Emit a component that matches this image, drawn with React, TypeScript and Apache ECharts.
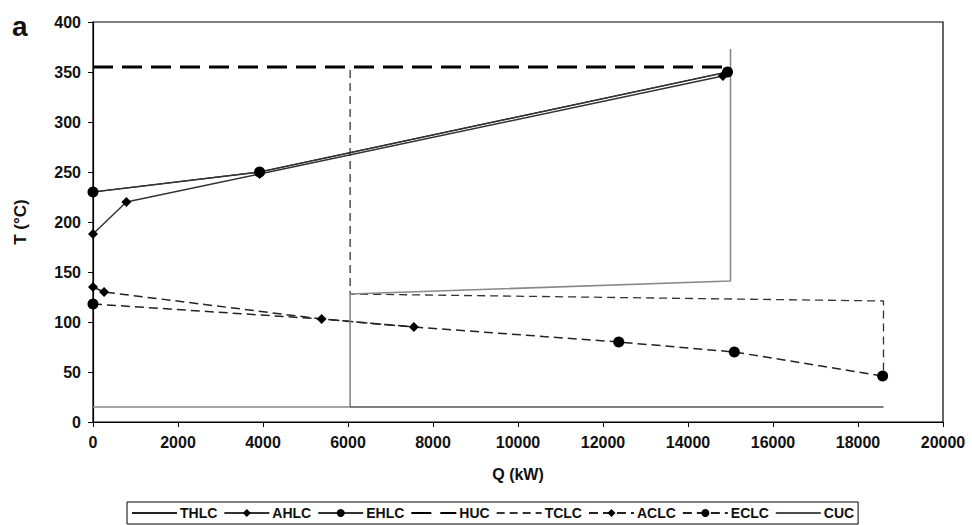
import React, { useEffect, useRef } from "react";
import * as echarts from "echarts";

// Q (kW), T (°C)
const THLC: number[][] = [[0, 230], [3920, 250], [14930, 350]];
const AHLC: number[][] = [[0, 188], [785, 220], [3920, 248], [14820, 346]];
const EHLC: number[][] = [[0, 230], [3920, 250], [14930, 350]];
const HUC: number[][] = [[0, 355], [15000, 355]];
const TCLC: number[][] = [[6050, 352], [6050, 128], [18600, 121], [18600, 46]];
const ACLC: number[][] = [[0, 135], [260, 130], [5380, 103], [7550, 95]];
const ECLC: number[][] = [[0, 118], [5380, 103], [7550, 95], [12370, 80], [15090, 70], [18580, 46]];
const ECLC_MARKED: boolean[] = [true, false, false, true, true, true];
const CUC_A: number[][] = [[0, 15], [6050, 15], [6050, 128], [15000, 141], [15000, 373]];
const CUC_B: number[][] = [[6050, 15], [18600, 15]];

const LEGEND_NAMES: string[] = ["THLC", "AHLC", "EHLC", "HUC", "TCLC", "ACLC", "ECLC", "CUC"];
const LEGEND_NO_MARK: string[] = ["THLC", "HUC", "TCLC", "CUC"];

const X_MIN = 0, X_MAX = 20000, X_STEP = 2000;
const Y_MIN = 0, Y_MAX = 400, Y_STEP = 50;

const FONT = "'Liberation Sans', Arial, sans-serif";

export default function App() {
  const ref = useRef<HTMLDivElement>(null);
  useEffect(() => {
    if (!ref.current) return;
    const chart = echarts.init(ref.current, undefined, { renderer: "svg" });
    const axisLabel = { fontFamily: FONT, fontWeight: "bold" as const, fontSize: 16, color: "#111" };
    chart.setOption({
      animation: false,
      backgroundColor: "#fff",
      grid: { left: 93, right: 29, top: 22, bottom: 103, show: true, borderColor: "#000", borderWidth: 1.2, backgroundColor: "transparent" },
      graphic: [
        { type: "text", left: 12, top: 12, style: { text: "a", fontFamily: FONT, fontWeight: "bold", fontSize: 28, fill: "#111" } },
      ],
      xAxis: {
        type: "value", min: X_MIN, max: X_MAX, interval: X_STEP,
        name: "Q (kW)", nameLocation: "middle", nameGap: 44,
        nameTextStyle: { fontFamily: FONT, fontWeight: "bold", fontSize: 16, color: "#111" },
        axisLine: { lineStyle: { color: "#000", width: 1.2 } },
        axisTick: { show: true, length: 5, lineStyle: { color: "#000" } },
        axisLabel: { ...axisLabel, margin: 12, showMaxLabel: true, formatter: (v: number) => String(v) },
        splitLine: { show: false },
      },
      yAxis: {
        type: "value", min: Y_MIN, max: Y_MAX, interval: Y_STEP,
        name: "T (°C)", nameLocation: "middle", nameGap: 64, nameRotate: 90,
        nameTextStyle: { fontFamily: FONT, fontWeight: "bold", fontSize: 17, color: "#111" },
        axisLine: { show: true, lineStyle: { color: "#000", width: 1.2 } },
        axisTick: { show: true, length: 5, lineStyle: { color: "#000" } },
        axisLabel: { ...axisLabel, margin: 12, formatter: (v: number) => String(v) },
        splitLine: { show: false },
      },
      legend: {
        left: 127, top: 502,
        padding: [4, 4, 4, 4],
        itemWidth: 45, itemHeight: 10, itemGap: 6,
        borderColor: "#000", borderWidth: 1,
        textStyle: { fontFamily: FONT, fontWeight: "bold", fontSize: 14, color: "#111", padding: [0, 0, 0, -2] },
        data: LEGEND_NAMES.map((n) => {
          if (n === "CUC") return { name: n, itemStyle: { opacity: 0 }, lineStyle: { color: "#111", width: 1.6, type: "solid" } };
          if (LEGEND_NO_MARK.includes(n)) return { name: n, itemStyle: { opacity: 0 } };
          return { name: n };
        }),
      },
      series: [
        { name: "THLC", type: "line", data: THLC, symbol: "none", lineStyle: { color: "#222", width: 1.2 }, itemStyle: { color: "#222" } },
        { name: "AHLC", type: "line", data: AHLC, symbol: "diamond", symbolSize: 10, lineStyle: { color: "#333", width: 1.5 }, itemStyle: { color: "#000" } },
        { name: "EHLC", type: "line", data: EHLC, symbol: "circle", symbolSize: 11, lineStyle: { color: "#333", width: 1.5 }, itemStyle: { color: "#000" } },
        { name: "HUC", type: "line", data: HUC, symbol: "none", lineStyle: { color: "#000", width: 3, type: [20, 9] }, itemStyle: { color: "#000" } },
        { name: "TCLC", type: "line", data: TCLC, symbol: "none", lineStyle: { color: "#333", width: 1.3, type: [8, 5] }, itemStyle: { color: "#333" } },
        { name: "ACLC", type: "line", data: ACLC, symbol: "diamond", symbolSize: 10, lineStyle: { color: "#222", width: 1.5, type: [9, 5] }, itemStyle: { color: "#000" } },
        {
          name: "ECLC", type: "line", symbol: "circle", symbolSize: 11,
          data: ECLC.map((p, i) => (ECLC_MARKED[i] ? p : { value: p, symbol: "none" })),
          lineStyle: { color: "#222", width: 1.5, type: [9, 5] }, itemStyle: { color: "#000" },
        },
        { name: "CUC", type: "line", data: CUC_A, symbol: "none", lineStyle: { color: "#888", width: 1.6 }, itemStyle: { color: "#222" } },
        { name: "CUC", type: "line", data: CUC_B, symbol: "none", lineStyle: { color: "#555", width: 1.6 }, itemStyle: { color: "#222" } },
      ],
    });
    return () => chart.dispose();
  }, []);
  return <div ref={ref} style={{ width: 972, height: 525, position: "absolute", left: 0, top: 0 }} />;
}
